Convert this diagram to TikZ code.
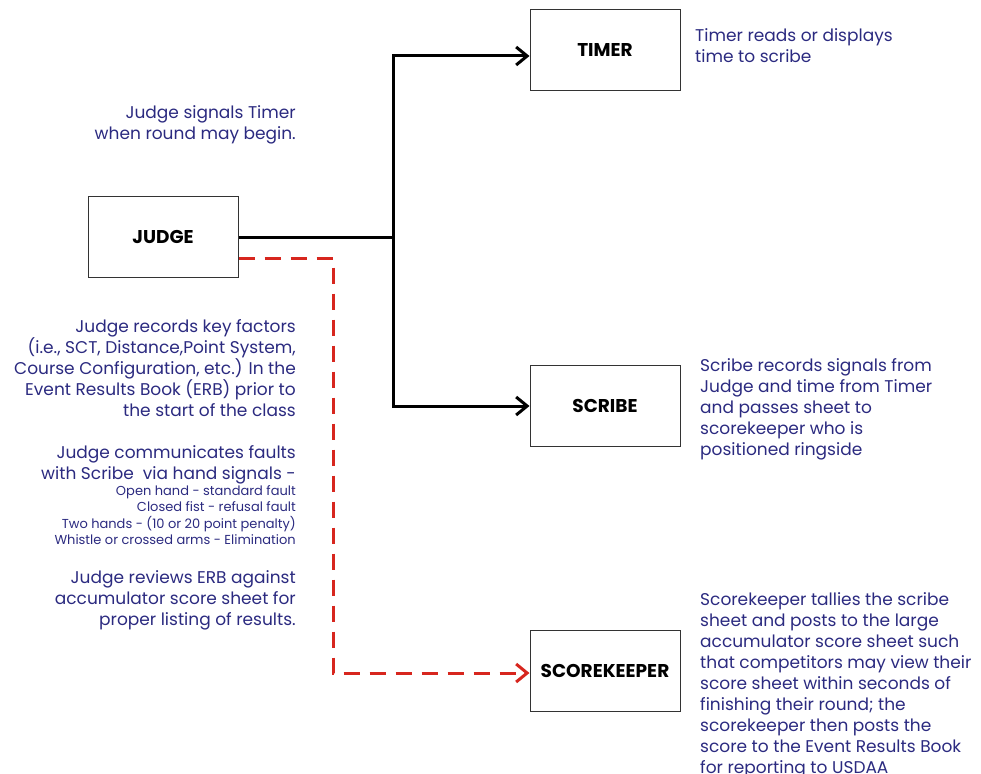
\documentclass[tikz,border=0pt]{standalone}
\usepackage{fontspec}
\setmainfont{Poppins}
\usepackage{tikz}
\usetikzlibrary{arrows.meta}
\definecolor{notetext}{HTML}{2B2A80}
\definecolor{signalred}{HTML}{D7261E}
\tikzset{>={Straight Barb[length=11pt,width=18pt]}}
\tikzset{
  role/.style={draw=black!80, line width=1pt, minimum width=150pt, minimum height=81pt,
    inner sep=0pt, font=\bfseries\fontsize{18.5}{20}\selectfont},
  note/.style={text=notetext, inner sep=0pt, font=\fontsize{17}{21}\selectfont},
  small/.style={font=\fontsize{13}{16.5}\selectfont},
  link/.style={line width=3pt},
}

\begin{document}
\begin{tikzpicture}[x=1pt, y=-1pt]
  \useasboundingbox (0,0) rectangle (981,773);
  % the four roles
  \node[role] (judge) at (163,237) {JUDGE};
  \node[role] (timer) at (605,50) {TIMER};
  \node[role] (scribe) at (605,406) {SCRIBE};
  \node[role] (keeper) at (605,671) {SCOREKEEPER};
  % judge signals timer and scribe
  \coordinate (fork) at (393,237);
  \coordinate (up) at (393,56);
  \draw[link] (judge.east) -- (fork);
  \draw[link, ->] (fork) -- (up) -- (timer.west |- up);
  \draw[link, ->] (fork) |- (scribe.west);
  % judge reviews the score sheet
  \coordinate (drop) at (333,258);
  \draw[signalred, link, dash pattern=on 16pt off 10pt, ->]
    (judge.east |- drop) -- (drop) -- (drop |- 0,673) -- (keeper.west |- 0,673);
  % notes
  \node[note, anchor=north east, align=right] (signote) at (296,105)
    {Judge signals Timer\\when round may begin.};
  \node[note, anchor=north east, align=right] (recnote) at (296,319)
    {Judge records key factors\\(i.e., SCT, Distance,Point System,\\Course Configuration, etc.) In the\\Event Results Book (ERB) prior to\\the start of the class};
  \node[note, anchor=north east, align=right] (faultnote) at (296,445)
    {Judge communicates faults\\with Scribe\ \ via hand signals -};
  \node[note, small, anchor=north east, align=right] (handnote) at (296,485)
    {Open hand - standard fault\\Closed fist - refusal fault\\Two hands - (10 or 20 point penalty)\\Whistle or crossed arms - Elimination};
  \node[note, anchor=north east, align=right] (ervnote) at (296,570)
    {Judge reviews ERB against\\accumulator score sheet for\\proper listing of results.};
  \node[note, anchor=north west, align=left] (timenote) at (695,28)
    {Timer reads or displays\\time to scribe};
  \node[note, anchor=north west, align=left] (scribenote) at (700,358)
    {Scribe records signals from\\Judge and time from Timer\\and passes sheet to\\scorekeeper who is\\positioned ringside};
  \node[note, anchor=north west, align=left] (keepnote) at (700,592)
    {Scorekeeper tallies the scribe\\sheet and posts to the large\\accumulator score sheet such\\that competitors may view their\\score sheet within seconds of\\finishing their round; the\\scorekeeper then posts the\\score to the Event Results Book\\for reporting to USDAA};
\end{tikzpicture}
\end{document}
